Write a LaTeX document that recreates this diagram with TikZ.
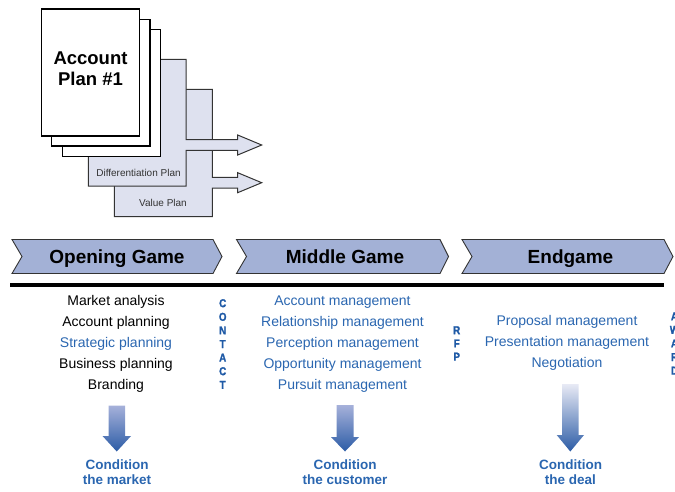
\documentclass[tikz,border=0pt]{standalone}
\usepackage{fontspec}
\setmainfont{Liberation Sans}
\newfontfamily\condfont[FakeStretch=0.85,FakeBold=1.5]{Liberation Sans}
\newcommand\lettertext[1]{{\condfont\bfseries\fontsize{11.5}{13}\selectfont #1}}
\definecolor{chev}{HTML}{A3B1D6}
\definecolor{planfill}{HTML}{DEE1EF}
\definecolor{txtblue}{HTML}{2A66B0}
\definecolor{letterblue}{HTML}{1F5AA6}
\definecolor{arrtop}{HTML}{A6B1DA}
\definecolor{arrtoplight}{HTML}{E8EAF5}
\definecolor{arrbot}{HTML}{2C5CA6}
\begin{document}
\begin{tikzpicture}[x=1pt,y=-1pt,
  pagebox/.style={draw=black, fill=white, line width=1.2pt},
  planbox/.style={draw=black!80, fill=planfill, line width=1pt},
  chevron/.style={draw=black!80, fill=chev, line width=0.9pt},
  phase/.style={font=\fontsize{19}{22}\selectfont\bfseries, inner sep=0pt, anchor=base},
  item/.style={font=\fontsize{14}{16}\selectfont, inner sep=0pt, anchor=base},
  blueitem/.style={item, text=txtblue},
  letter/.style={text=letterblue, inner sep=0pt, anchor=base},
  outcome/.style={font=\fontsize{13.5}{15.5}\selectfont\bfseries, text=txtblue, inner sep=0pt, anchor=base},
  plantext/.style={font=\fontsize{10}{12}\selectfont, text=black!80, inner sep=0pt, anchor=base},
  titletext/.style={font=\fontsize{18.5}{22}\selectfont\bfseries, inner sep=0pt, anchor=base}
]
\path[use as bounding box] (0,0) rectangle (675,491);
\clip (0,0) rectangle (675,491);

% plan shapes with arrows
\draw[planbox] (114.3,89.3) -- (212.3,89.3) -- (212.3,177.3) -- (237.7,177.3) -- (237.7,172.7)
  -- (261.7,182.7) -- (237.7,192.7) -- (237.7,188) -- (212.3,188) -- (212.3,216.7) -- (114.3,216.7) -- cycle;
\draw[planbox] (88.3,59.3) -- (186,59.3) -- (186,139.7) -- (237.7,139.7) -- (237.7,135)
  -- (261.7,145) -- (237.7,155) -- (237.7,150.3) -- (186,150.3) -- (186,186) -- (88.3,186) -- cycle;
\node[plantext] (diffplan) at (138.5,176.3) {Differentiation Plan};
\node[plantext] (valueplan) at (163,206.9) {Value Plan};

% pages
\draw[pagebox] (62.3,29.3) rectangle (160.7,156.7);
\draw[pagebox] (51.7,19.3) rectangle (150,146);
\draw[pagebox] (41.7,9) rectangle (139.3,136);
\node[titletext] (acct1) at (90.5,64.8) {Account};
\node[titletext] (acct2) at (90.5,85.6) {Plan \#1};

% chevrons
\draw[chevron] (12,239.5) -- (213,239.5) -- (222,256.5) -- (213,273.5) -- (12,273.5) -- (22,256.5) -- cycle;
\draw[chevron] (236.5,239.5) -- (440,239.5) -- (448.5,256.5) -- (440,273.5) -- (236.5,273.5) -- (246.5,256.5) -- cycle;
\draw[chevron] (462,239.5) -- (664,239.5) -- (673,256.5) -- (664,273.5) -- (462,273.5) -- (472,256.5) -- cycle;
\node[phase] (opening) at (117,263.6) {Opening Game};
\node[phase] (middle) at (345,263.6) {Middle Game};
\node[phase] (endgame) at (570.5,263.6) {Endgame};

% thick rule
\draw[line width=3.5pt] (10,285) -- (664,285);

% opening list
\node[item] (o1) at (116,305) {Market analysis};
\node[item] (o2) at (116,326) {Account planning};
\node[blueitem] (o3) at (116,347) {Strategic planning};
\node[item] (o4) at (116,368) {Business planning};
\node[item] (o5) at (116,389) {Branding};

% middle list
\node[blueitem] (m1) at (342.5,305) {Account management};
\node[blueitem] (m2) at (342.5,326) {Relationship management};
\node[blueitem] (m3) at (342.5,347) {Perception management};
\node[blueitem] (m4) at (342.5,368) {Opportunity management};
\node[blueitem] (m5) at (342.5,389) {Pursuit management};

% endgame list
\node[blueitem] (e1) at (567,325) {Proposal management};
\node[blueitem] (e2) at (567,346) {Presentation management};
\node[blueitem] (e3) at (567,367) {Negotiation};

% vertical words
\foreach \ch [count=\i from 0] in {C,O,N,T,A,C,T}
  \node[letter] (contact\i) at (222.7,307.2+13.6*\i) {\lettertext{\ch}};
\foreach \ch [count=\i from 0] in {R,F,P}
  \node[letter] (rfp\i) at (456.7,334.2+13.2*\i) {\lettertext{\ch}};
\foreach \ch [count=\i from 0] in {A,W,A,R,D}
  \node[letter] (award\i) at (674.5,320.2+13.6*\i) {\lettertext{\ch}};

% down arrows
\shade[top color=arrtop, bottom color=arrbot]
  (108.5,405.5) -- (125,405.5) -- (125,436) -- (131,436) -- (116.75,451.5) -- (102.5,436) -- (108.5,436) -- cycle;
\shade[top color=arrtop, bottom color=arrbot]
  (336.5,405) -- (353.5,405) -- (353.5,437) -- (359,437) -- (345,451.5) -- (331,437) -- (336.5,437) -- cycle;
\shade[top color=arrtoplight, bottom color=arrbot]
  (562,384) -- (578.5,384) -- (578.5,435) -- (584,435) -- (570.3,451.5) -- (556.7,435) -- (562,435) -- cycle;

% outcomes
\node[outcome] (c1a) at (117,469.9) {Condition};
\node[outcome] (c1b) at (117,484.9) {the market};
\node[outcome] (c2a) at (345,469.9) {Condition};
\node[outcome] (c2b) at (345,484.9) {the customer};
\node[outcome] (c3a) at (570.5,469.9) {Condition};
\node[outcome] (c3b) at (570.5,484.9) {the deal};
\end{tikzpicture}
\end{document}
